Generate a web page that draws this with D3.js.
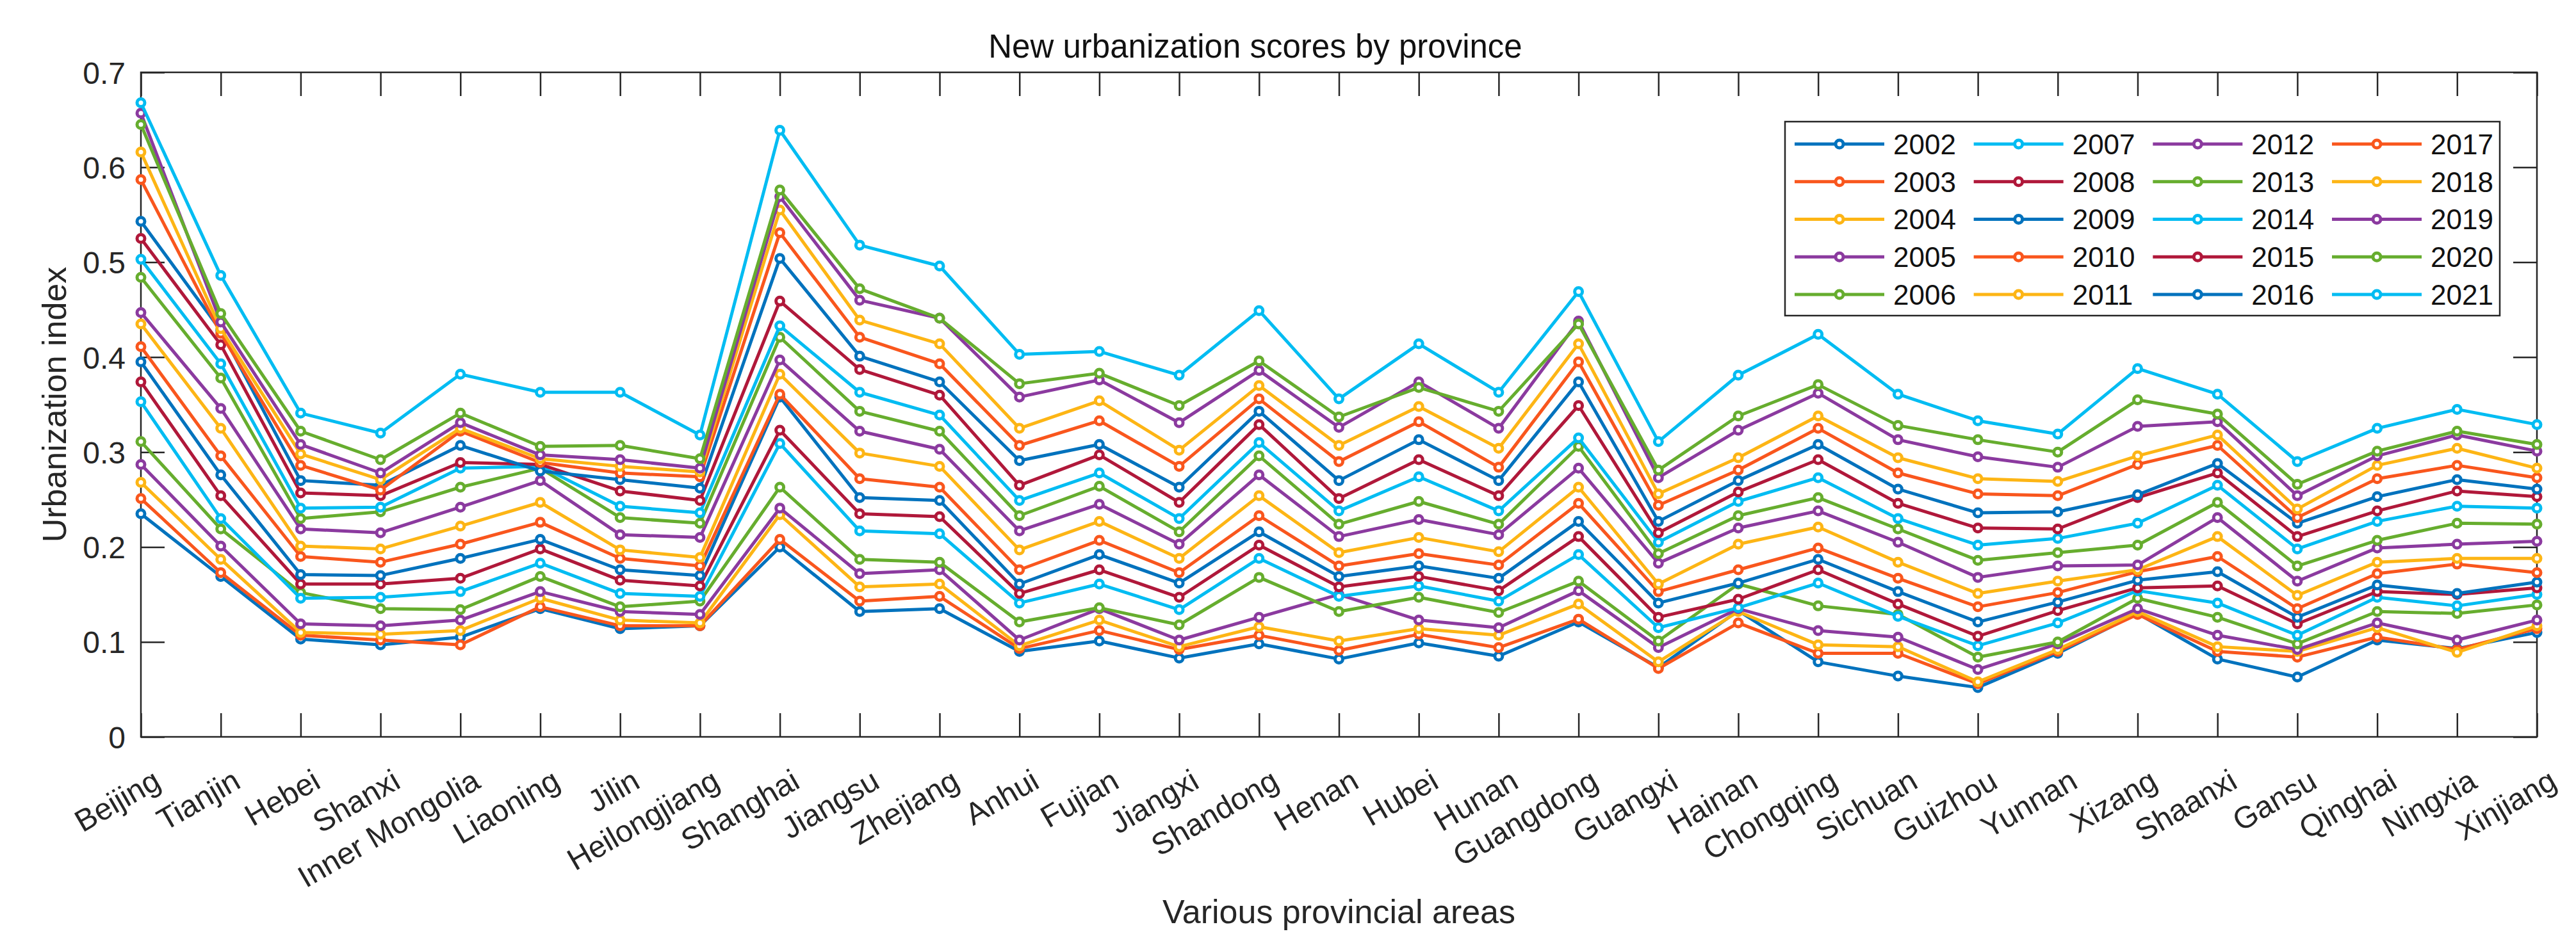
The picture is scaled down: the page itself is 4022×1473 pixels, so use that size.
<!DOCTYPE html>
<html>
<head>
<meta charset="utf-8">
<script src="https://cdn.jsdelivr.net/npm/d3@7"></script>
<style>
  body { margin: 0; background: #fff; }
  text { font-family: "Liberation Sans", Arial, sans-serif; fill: #262626; }
</style>
</head>
<body>
<div id="chart"></div>
<script>
const provinces = ["Beijing", "Tianjin", "Hebei", "Shanxi", "Inner Mongolia", "Liaoning", "Jilin",
  "Heilongjiang", "Shanghai", "Jiangsu", "Zhejiang", "Anhui", "Fujian", "Jiangxi", "Shandong",
  "Henan", "Hubei", "Hunan", "Guangdong", "Guangxi", "Hainan", "Chongqing", "Sichuan", "Guizhou",
  "Yunnan", "Xizang", "Shaanxi", "Gansu", "Qinghai", "Ningxia", "Xinjiang"];

const years = [2002, 2003, 2004, 2005, 2006, 2007, 2008, 2009, 2010, 2011,
  2012, 2013, 2014, 2015, 2016, 2017, 2018, 2019, 2020, 2021];

const yTicks = [0, 0.1, 0.2, 0.3, 0.4, 0.5, 0.6, 0.7];

const s2002 = [.235,.169,.103,.097,.105,.135,.114,.117,.200,.132,.135,.090,.101,.083,.098,.082,.099,.085,.121,.073,.133,.079,.064,.052,.088,.130,.082,.063,.102,.093,.110];
const s2003 = [.251,.173,.107,.102,.097,.137,.117,.117,.208,.143,.148,.093,.112,.092,.107,.091,.108,.094,.124,.072,.120,.088,.088,.056,.090,.129,.090,.084,.105,.092,.114];
const s2004 = [.268,.187,.110,.108,.112,.146,.123,.120,.234,.158,.161,.096,.123,.095,.116,.101,.114,.107,.140,.079,.132,.097,.095,.058,.092,.132,.095,.090,.115,.089,.117];
const s2005 = [.287,.201,.119,.117,.123,.153,.132,.129,.241,.172,.176,.102,.135,.102,.126,.150,.123,.115,.154,.094,.135,.112,.105,.071,.098,.135,.107,.092,.120,.102,.123];
const s2006 = [.311,.219,.152,.135,.134,.169,.137,.143,.263,.187,.184,.121,.136,.118,.168,.132,.147,.131,.164,.101,.161,.138,.129,.084,.100,.146,.126,.098,.132,.130,.139];
const s2007 = [.353,.230,.146,.147,.153,.183,.151,.148,.309,.217,.214,.141,.161,.134,.188,.148,.159,.143,.192,.115,.136,.162,.127,.096,.120,.154,.141,.107,.147,.138,.150];
const s2008 = [.374,.254,.161,.161,.167,.198,.165,.159,.323,.235,.232,.151,.176,.147,.202,.158,.169,.154,.211,.126,.145,.176,.140,.106,.133,.157,.159,.119,.153,.150,.157];
const s2009 = [.395,.276,.171,.170,.188,.208,.176,.170,.358,.252,.249,.161,.192,.162,.216,.169,.180,.167,.227,.141,.162,.187,.153,.121,.142,.165,.174,.126,.160,.151,.163];
const s2010 = [.411,.296,.190,.184,.203,.226,.188,.180,.361,.272,.263,.176,.207,.173,.233,.180,.193,.181,.246,.153,.176,.199,.167,.137,.152,.174,.190,.135,.172,.182,.173];
const s2011 = [.435,.325,.201,.198,.222,.247,.197,.189,.382,.299,.285,.197,.227,.188,.254,.194,.210,.195,.263,.161,.203,.221,.184,.151,.164,.176,.211,.149,.184,.188,.188];
const s2012 = [.447,.346,.219,.215,.242,.270,.213,.210,.397,.322,.303,.217,.245,.203,.276,.211,.229,.213,.283,.183,.220,.238,.205,.168,.180,.181,.231,.164,.199,.203,.206];
const s2013 = [.484,.378,.230,.237,.263,.283,.231,.225,.421,.343,.322,.233,.264,.216,.296,.224,.248,.224,.306,.193,.233,.252,.219,.186,.194,.202,.247,.180,.207,.225,.224];
const s2014 = [.503,.393,.241,.242,.283,.285,.243,.236,.433,.363,.339,.249,.278,.230,.310,.238,.274,.238,.315,.205,.248,.273,.230,.202,.209,.225,.265,.198,.227,.243,.241];
const s2015 = [.525,.413,.257,.254,.289,.287,.259,.249,.459,.387,.360,.265,.297,.247,.329,.251,.292,.254,.349,.215,.258,.292,.246,.220,.219,.252,.278,.211,.238,.259,.253];
const s2016 = [.543,.428,.270,.265,.307,.280,.271,.262,.504,.401,.374,.291,.308,.263,.343,.270,.313,.270,.374,.227,.270,.308,.261,.236,.237,.255,.288,.225,.253,.271,.261];
const s2017 = [.587,.425,.286,.260,.322,.289,.278,.274,.531,.421,.393,.307,.333,.285,.356,.290,.332,.284,.395,.244,.281,.325,.278,.256,.254,.287,.307,.231,.272,.286,.273];
const s2018 = [.616,.430,.298,.271,.325,.293,.285,.279,.555,.439,.414,.325,.354,.302,.370,.307,.348,.304,.414,.256,.294,.338,.294,.272,.269,.296,.318,.240,.286,.304,.283];
const s2019 = [.657,.437,.308,.278,.331,.297,.292,.283,.569,.460,.441,.358,.376,.331,.386,.326,.374,.325,.438,.273,.323,.362,.313,.295,.284,.327,.332,.254,.296,.318,.301];
const s2020 = [.645,.446,.322,.292,.341,.306,.307,.293,.576,.472,.441,.372,.383,.349,.396,.337,.368,.343,.435,.281,.338,.371,.328,.313,.300,.355,.340,.266,.301,.322,.308];
const s2021 = [.668,.486,.341,.320,.382,.363,.363,.318,.639,.518,.496,.403,.406,.381,.449,.356,.414,.363,.469,.311,.381,.424,.361,.333,.319,.388,.361,.290,.325,.345,.329];

const scores = [s2002, s2003, s2004, s2005, s2006, s2007, s2008, s2009, s2010, s2011,
  s2012, s2013, s2014, s2015, s2016, s2017, s2018, s2019, s2020, s2021];

// matlab-like colour order, repeats every 7 lines
const palette = ["#0072BD", "#F9561D", "#FDB515", "#8B3A9F", "#66AD2E", "#00BCF2", "#B0183A"];

const width = 4022;
const height = 1473;
const margin = { top: 113, left: 220, bottom: 322, right: 61 };
const iwidth = width - margin.left - margin.right;
const iheight = height - margin.top - margin.bottom;
const tickLen = 37;
const axisColor = "#262626";

const svg = d3.select("#chart").append("svg")
  .attr("width", width)
  .attr("height", height);

const g = svg.append("g")
  .attr("transform", `translate(${margin.left},${margin.top})`);

const x = d3.scalePoint().domain(provinces).range([0, iwidth]);
const y = d3.scaleLinear().domain([0, 0.7]).range([iheight, 0]);
const color = (i) => palette[i % palette.length];

// axes: bottom/left with labels, top/right ticks only (box on)
const xAxis = g.append("g")
  .attr("transform", `translate(0,${iheight})`)
  .call(d3.axisBottom(x).tickSizeInner(-tickLen).tickSizeOuter(0).tickFormat(""));
g.append("g")
  .call(d3.axisTop(x).tickSizeInner(-tickLen).tickSizeOuter(0).tickFormat(""));
const yAxis = g.append("g")
  .call(d3.axisLeft(y).tickValues(yTicks).tickSizeInner(-tickLen).tickSizeOuter(0)
    .tickFormat((d) => d === 0 ? "0" : d3.format(".1f")(d)));
g.append("g")
  .attr("transform", `translate(${iwidth},0)`)
  .call(d3.axisRight(y).tickValues(yTicks).tickSizeInner(-tickLen).tickSizeOuter(0).tickFormat(""));

g.selectAll(".domain").remove();
g.selectAll(".tick line").attr("stroke", axisColor).attr("stroke-width", 2.5);

yAxis.selectAll(".tick text")
  .attr("x", -24)
  .attr("dy", "0.36em")
  .style("font-size", "48px")
  .style("fill", axisColor);

// rotated province labels
xAxis.selectAll(".tick")
  .append("text")
  .attr("text-anchor", "end")
  .attr("transform", "translate(16,48) rotate(-30)")
  .attr("dy", "0.72em")
  .style("font-size", "48px")
  .style("fill", axisColor)
  .text((d) => d);

g.append("rect")
  .attr("width", iwidth)
  .attr("height", iheight)
  .attr("fill", "none")
  .attr("stroke", axisColor)
  .attr("stroke-width", 2.5);

const line = d3.line()
  .x((d, i) => x(provinces[i]))
  .y((d) => y(d));

const series = g.append("g").selectAll("g")
  .data(scores)
  .enter()
  .append("g");

series.append("path")
  .attr("d", (d) => line(d))
  .attr("fill", "none")
  .attr("stroke", (d, i) => color(i))
  .attr("stroke-width", 5)
  .attr("stroke-linejoin", "round");

series.each(function (d, i) {
  d3.select(this).selectAll("circle")
    .data(d)
    .enter()
    .append("circle")
    .attr("cx", (v, j) => x(provinces[j]))
    .attr("cy", (v) => y(v))
    .attr("r", 6)
    .attr("fill", "#fff")
    .attr("stroke", color(i))
    .attr("stroke-width", 5);
});

// title and axis labels
svg.append("text")
  .attr("x", 1960)
  .attr("y", 90)
  .attr("text-anchor", "middle")
  .style("font-size", "51px")
  .style("fill", "#111")
  .text("New urbanization scores by province");

svg.append("text")
  .attr("x", margin.left + iwidth / 2)
  .attr("y", 1442)
  .attr("text-anchor", "middle")
  .style("font-size", "52px")
  .text("Various provincial areas");

svg.append("text")
  .attr("transform", `translate(103,${margin.top + iheight / 2}) rotate(-90)`)
  .attr("text-anchor", "middle")
  .style("font-size", "52px")
  .text("Urbanization index");

// legend, 4 columns x 5 rows
const legend = svg.append("g");
legend.append("rect")
  .attr("x", 2787)
  .attr("y", 190)
  .attr("width", 1116)
  .attr("height", 303)
  .attr("fill", "#fff")
  .attr("stroke", axisColor)
  .attr("stroke-width", 2.5);

const colX = d3.scaleLinear().domain([0, 3]).range([2872, 3711]);
const rowY = d3.scaleLinear().domain([0, 4]).range([225, 460]);

const items = legend.selectAll(".item")
  .data(years)
  .enter()
  .append("g")
  .attr("class", "item")
  .attr("transform", (d, i) => `translate(${colX(Math.floor(i / 5))},${rowY(i % 5)})`);

items.append("line")
  .attr("x1", -70)
  .attr("x2", 70)
  .attr("stroke", (d, i) => color(i))
  .attr("stroke-width", 5);

items.append("circle")
  .attr("r", 6)
  .attr("fill", "#fff")
  .attr("stroke", (d, i) => color(i))
  .attr("stroke-width", 5);

items.append("text")
  .attr("x", 84)
  .attr("dy", "0.36em")
  .style("font-size", "44px")
  .style("fill", "#111")
  .text((d) => d);
</script>
</body>
</html>
